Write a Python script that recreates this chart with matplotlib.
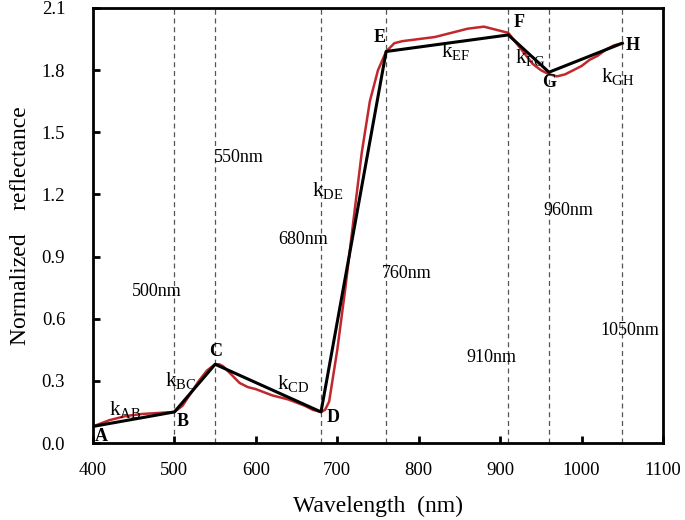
import matplotlib
matplotlib.use("Agg")
import matplotlib.pyplot as plt

plt.rcParams['font.family'] = ['Liberation Serif', 'DejaVu Serif']
plt.rcParams['mathtext.fontset'] = 'custom'
plt.rcParams['mathtext.rm'] = 'Liberation Serif'
plt.rcParams['mathtext.it'] = 'Liberation Serif'

# Red measured spectrum
wl = [400, 420, 440, 460, 480, 500, 510, 520, 530, 540, 550, 555, 560, 570, 580, 590, 600,
      620, 640, 660, 670, 680, 685, 690, 700, 710, 720, 730, 740, 750, 760, 770, 780, 800,
      820, 840, 860, 880, 890, 900, 910, 920, 930, 940, 950, 960, 970, 980, 990, 1000, 1010,
      1020, 1030, 1040, 1050]
refl = [0.08, 0.11, 0.13, 0.14, 0.145, 0.15, 0.18, 0.24, 0.30, 0.35, 0.38, 0.38, 0.37, 0.33, 0.29, 0.27, 0.26,
        0.23, 0.21, 0.18, 0.16, 0.15, 0.16, 0.20, 0.45, 0.75, 1.08, 1.40, 1.65, 1.80, 1.89, 1.93, 1.94, 1.95,
        1.96, 1.98, 2.00, 2.01, 2.00, 1.99, 1.98, 1.93, 1.88, 1.83, 1.80, 1.78, 1.77, 1.78, 1.80, 1.82, 1.85,
        1.87, 1.90, 1.92, 1.93]

# Black piecewise-linear fit through key points
key_names = ['A', 'B', 'C', 'D', 'E', 'F', 'G', 'H']
key_wl = [400, 500, 550, 680, 760, 910, 960, 1050]
key_val = [0.08, 0.15, 0.38, 0.15, 1.89, 1.97, 1.79, 1.93]

# Key point letter positions
letter_pos = [(410, 0.03), (510, 0.105), (551, 0.44), (695, 0.125), (752, 1.96), (923, 2.03), (960, 1.74), (1063, 1.92)]

# Slope labels
slope_labels = ['AB', 'BC', 'CD', 'DE', 'EF', 'FG', 'GH']
slope_pos = [(440, 0.16), (508, 0.30), (646, 0.285), (688, 1.22), (845, 1.89), (937, 1.86), (1044, 1.77)]

# Band labels
band_labels = ['500nm', '550nm', '680nm', '760nm', '910nm', '960nm', '1050nm']
band_pos = [(448, 0.73), (548, 1.38), (627, 0.98), (755, 0.82), (858, 0.415), (953, 1.12), (1023, 0.545)]

fig = plt.figure(figsize=(6.85, 5.2), dpi=100)
ax = fig.add_axes([93/685, 1 - 443/520, (663-93)/685, (443-8)/520])

for w in key_wl[1:]:
    ax.axvline(w, color='#555555', linestyle=(0, (4, 3)), linewidth=0.9, zorder=1)

ax.plot(wl, refl, color='#c0282d', linewidth=1.8, zorder=2)
ax.plot(key_wl, key_val, color='black', linewidth=2.2, zorder=3)

for name, (x, y) in zip(key_names, letter_pos):
    ax.text(x, y, name, fontsize=13, fontweight='bold', ha='center', va='center', zorder=4)

for lab, (x, y) in zip(slope_labels, slope_pos):
    ax.text(x, y, r'$\mathrm{k_{%s}}$' % lab, fontsize=15, ha='center', va='center', zorder=4)

for lab, (x, y) in zip(band_labels, band_pos):
    ax.text(x, y, lab, fontsize=13, ha='left', va='center', zorder=4)

ax.set_xlim(400, 1100)
ax.set_ylim(0, 2.1)
ax.set_xticks([400, 500, 600, 700, 800, 900, 1000, 1100])
ax.set_yticks([0.0, 0.3, 0.6, 0.9, 1.2, 1.5, 1.8, 2.1])
ax.set_yticklabels(['%.1f' % v for v in [0.0, 0.3, 0.6, 0.9, 1.2, 1.5, 1.8, 2.1]])
ax.tick_params(direction='in', length=5, width=2, labelsize=13.5)
ax.tick_params(axis='x', pad=14)
ax.tick_params(axis='y', pad=20)
for s in ax.spines.values():
    s.set_linewidth(2)

ax.set_xlabel('Wavelength  (nm)', fontsize=17, labelpad=12)
ax.set_ylabel('Normalized    reflectance', fontsize=17, labelpad=8)

fig.savefig('out.png', dpi=100)
